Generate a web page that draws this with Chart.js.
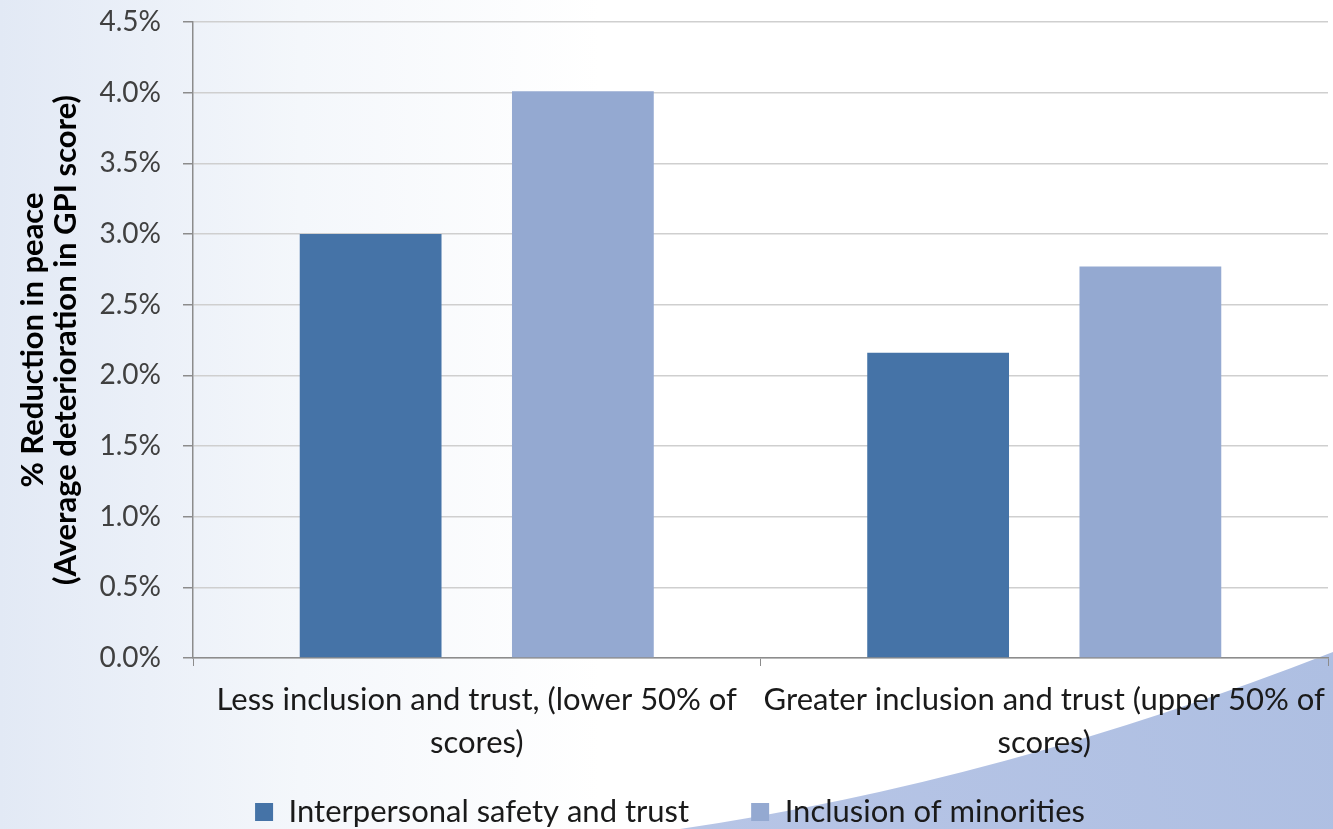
<!DOCTYPE html>
<html>
<head>
<meta charset="utf-8">
<script src="https://cdn.jsdelivr.net/npm/chart.js@4.4.1/dist/chart.umd.min.js"></script>
<style>
  html, body { margin: 0; padding: 0; background: #ffffff; overflow: hidden; }
  #wrap { width: 1333px; height: 829px; position: relative; }
</style>
</head>
<body>
<div id="wrap"><canvas id="c" width="1333" height="829"></canvas></div>
<script>
// ---- data ----
const categories = [
  ["Less inclusion and trust, (lower 50% of", "scores)"],
  ["Greater inclusion and trust (upper 50% of", "scores)"]
];
const seriesNames = ["Interpersonal safety and trust", "Inclusion of minorities"];
const interpersonalSafety = [3.0, 2.16];
const inclusionMinorities = [4.01, 2.77];
const yTicks = [0, 0.5, 1.0, 1.5, 2.0, 2.5, 3.0, 3.5, 4.0, 4.5];
const yTitle = ["% Reduction in peace", "(Average deterioration in GPI score)"];

const FONT = "Lato, 'Open Sans', sans-serif";
const LEGEND_FONT = 31;
const LEGEND_GAP = 62;

const backgroundPlugin = {
  id: 'bg',
  beforeDraw(chart) {
    const ctx = chart.ctx;
    const W = chart.width, H = chart.height;
    ctx.save();
    const g = ctx.createLinearGradient(0, 0, W * 0.45, 0);
    g.addColorStop(0, '#e2e9f5');
    g.addColorStop(0.5, '#f4f7fb');
    g.addColorStop(1, '#ffffff');
    ctx.fillStyle = g;
    ctx.fillRect(0, 0, W, H);
    ctx.beginPath();
    ctx.moveTo(680, H);
    ctx.quadraticCurveTo(1000, 782, W, 652);
    ctx.lineTo(W, H);
    ctx.closePath();
    const g2 = ctx.createLinearGradient(700, H, W, 650);
    g2.addColorStop(0, '#b7c5e6');
    g2.addColorStop(1, '#aebfe2');
    ctx.fillStyle = g2;
    ctx.fill();
    ctx.restore();
    // place the legend row near the bottom edge (layout reserves only 1px for it)
    const lg = chart.legend;
    if (lg && !lg._placed) {
      lg._placed = true;
      lg.top = 812 - LEGEND_GAP - LEGEND_FONT / 2;
      lg.bottom = H;
      lg.height = lg.bottom - lg.top;
      lg.left += 6;
      lg.right += 6;
    }
  }
};

new Chart(document.getElementById('c'), {
  type: 'bar',
  data: {
    labels: categories,
    datasets: [
      { label: seriesNames[0], data: interpersonalSafety, backgroundColor: '#4573a7', borderWidth: 0 },
      { label: seriesNames[1], data: inclusionMinorities, backgroundColor: '#94a9d1', borderWidth: 0 }
    ]
  },
  options: {
    responsive: false,
    animation: false,
    devicePixelRatio: 1,
    categoryPercentage: 0.748,
    barPercentage: 0.668,
    layout: { padding: { top: 22, right: 5, left: 0, bottom: 0 } },
    plugins: {
      tooltip: { enabled: false },
      legend: {
        position: 'bottom',
        maxHeight: 1,
        labels: {
          boxWidth: 18,
          boxHeight: 18,
          padding: LEGEND_GAP,
          color: '#1a1a1a',
          font: { family: FONT, size: LEGEND_FONT }
        }
      }
    },
    scales: {
      x: {
        grid: {
          display: true,
          drawOnChartArea: false,
          drawTicks: true,
          tickLength: 8,
          tickColor: '#8c8c8c',
          color: '#8c8c8c'
        },
        border: { display: true, color: '#8c8c8c', width: 1.5 },
        ticks: {
          color: '#1a1a1a',
          padding: 12,
          maxRotation: 0,
          autoSkip: false,
          font: { family: FONT, size: 31, lineHeight: 1.39 }
        },
        afterFit(scale) {
          scale.height = 170;
          scale.paddingLeft = 0;
          scale.paddingRight = 0;
        }
      },
      y: {
        min: 0,
        max: 4.5,
        afterBuildTicks(scale) { scale.ticks = yTicks.map(v => ({ value: v })); },
        grid: {
          color: '#cfcfcf',
          lineWidth: 1.5,
          drawTicks: true,
          tickLength: 10,
          tickColor: '#8c8c8c'
        },
        border: { display: true, color: '#8c8c8c', width: 1.5 },
        ticks: {
          color: '#404040',
          padding: 22,
          font: { family: FONT, size: 28 },
          callback: (v) => Number(v).toFixed(1) + '%'
        },
        title: {
          display: true,
          text: yTitle,
          color: '#000000',
          padding: { top: 17, bottom: 0 },
          font: { family: FONT, size: 31, weight: 'bold', lineHeight: 1.05 }
        },
        afterFit(scale) {
          scale.width = 193;
          scale.paddingTop = 0;
          scale.paddingBottom = 0;
        }
      }
    }
  },
  plugins: [backgroundPlugin]
});
</script>
</body>
</html>
